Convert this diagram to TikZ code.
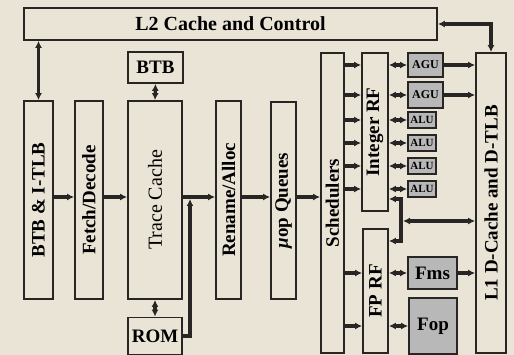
\documentclass[tikz,border=0pt]{standalone}
\usepackage{fontspec}
\setmainfont{Liberation Serif}
\usetikzlibrary{arrows.meta,calc}
\definecolor{parch}{RGB}{234,228,215}
\definecolor{unitgray}{RGB}{184,184,184}
\definecolor{ink}{RGB}{40,38,36}

\begin{document}
\begin{tikzpicture}[x=1pt,y=-1pt,>={Latex[length=7pt,width=7pt]},
  blk/.style={draw=ink,line width=1.8pt,inner sep=0pt},
  unit/.style={blk,fill=unitgray},
  lbl/.style={font=\fontsize{19}{19}\selectfont\bfseries},
  small/.style={font=\fontsize{12}{12}\selectfont\bfseries},
  vlbl/.style={label={[rotate=90,lbl]center:#1}},
  link/.style={draw=ink,line width=3.4pt}]
  \fill[parch] (0,0) rectangle (514,355);
  \useasboundingbox (0,0) rectangle (514,355);
  % front end
  \node[blk,minimum width=413pt,minimum height=32pt,lbl,font=\fontsize{20}{20}\selectfont\bfseries] (l2) at (230.5,24) {L2 Cache and Control};
  \node[blk,minimum width=29pt,minimum height=198pt,vlbl={BTB \& I-TLB}] (btbitlb) at (38.5,200) {};
  \node[blk,minimum width=28pt,minimum height=198pt,vlbl={Fetch/Decode}] (fetch) at (89,200) {};
  \node[blk,minimum width=54pt,minimum height=198pt,
    label={[rotate=90,font=\fontsize{20}{20}\selectfont]center:Trace Cache}] (trace) at (155,200) {};
  \node[blk,minimum width=55pt,minimum height=31pt,lbl] (btb) at (155.5,67.5) {BTB};
  \node[blk,minimum width=54pt,minimum height=37pt,lbl] (rom) at (155,336) {ROM};
  \node[blk,minimum width=25pt,minimum height=198pt,vlbl={Rename/Alloc}] (rename) at (228.5,200) {};
  \node[blk,minimum width=25pt,minimum height=197pt,vlbl={\textit{μ}op Queues}] (uop) at (283.5,200.5) {};
  % back end
  \node[blk,minimum width=23pt,minimum height=300pt,vlbl={Schedulers}] (sched) at (332.5,203) {};
  \node[blk,minimum width=26pt,minimum height=158pt,vlbl={Integer RF}] (intrf) at (375,132) {};
  \node[blk,minimum width=25pt,minimum height=124pt,vlbl={FP RF}] (fprf) at (375.5,291) {};
  \node[unit,minimum width=35pt,minimum height=24pt,small] (agu1) at (425.5,65) {AGU};
  \node[unit,minimum width=35pt,minimum height=26pt,small] (agu2) at (425.5,95) {AGU};
  \foreach \n/\y in {1/120,2/143,3/166,4/189}
    \node[unit,minimum width=28pt,minimum height=16pt,small,font=\fontsize{11}{11}\selectfont\bfseries] (alu\n) at (422,\y) {ALU};
  \node[unit,minimum width=49pt,minimum height=32pt,lbl] (fms) at (432.5,273) {Fms};
  \node[unit,minimum width=48pt,minimum height=56pt,lbl] (fop) at (433,326) {Fop};
  \node[blk,minimum width=30pt,minimum height=300pt,vlbl={L1 D-Cache and D-TLB}] (l1) at (491,203) {};

  % front end links
  \coordinate (fe) at (0,197);
  \coordinate (romtap) at (190,199);
  \draw[link,<->] (l2.south -| btbitlb) -- (btbitlb.north);
  \draw[link,<->] (btb.south) -- (trace.north);
  \draw[link,<->] (trace.south) -- (rom.north);
  \draw[link,->] (btbitlb.east |- fe) -- (fetch.west |- fe);
  \draw[link,->] (fetch.east |- fe) -- (trace.west |- fe);
  \draw[link,->] (trace.east |- fe) -- (rename.west |- fe);
  \draw[link,->] (rom.east) -| (romtap);
  \draw[link,->] (rename.east |- fe) -- (uop.west |- fe);
  \draw[link,->] (uop.east |- fe) -- (sched.west |- fe);
  \draw[link,<->] (l2.east) -| (l1.north);

  % integer side
  \foreach \u in {agu1,agu2,alu1,alu2,alu3,alu4}{
    \draw[link,->] (sched.east |- \u) -- (intrf.west |- \u);
    \draw[link,<->] (intrf.east |- \u) -- (\u.west);
  }
  \foreach \u in {agu1,agu2,fms}
    \draw[link,->] (\u.east) -- (l1.west |- \u);

  % fp side
  \foreach \u in {fms,fop}{
    \draw[link,->] (sched.east |- \u) -- (fprf.west |- \u);
    \draw[link,<->] (fprf.east |- \u) -- (\u.west);
  }

  % load/store bus
  \coordinate (bustop) at (401,199);
  \coordinate (busmid) at (403,221);
  \coordinate (busbot) at (401,241);
  \draw[link,<->] (intrf.east |- bustop) -- (bustop) -- (busbot) -- (fprf.east |- busbot);
  \draw[link,<->] (busmid) -- (l1.west |- busmid);
\end{tikzpicture}
\end{document}
